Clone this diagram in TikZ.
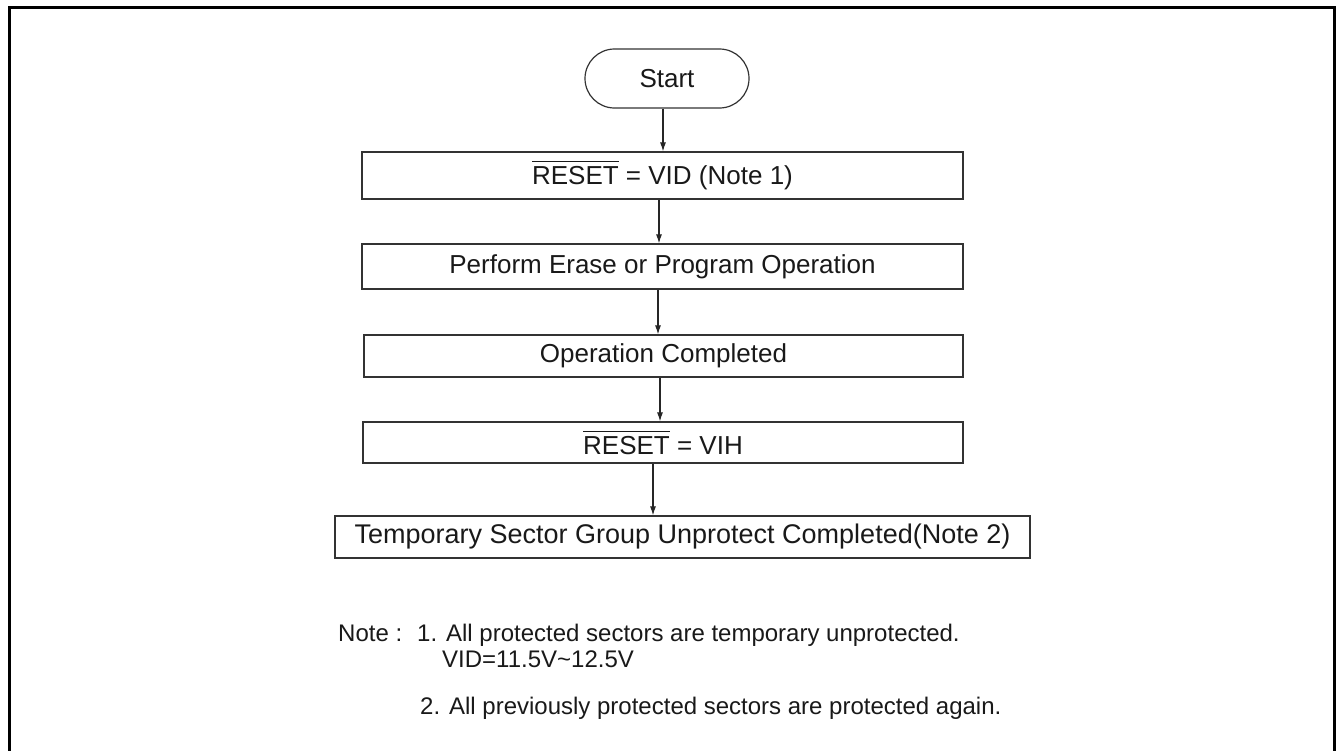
\documentclass[tikz,border=0pt]{standalone}
\usepackage{fontspec}
\setmainfont{Liberation Sans}
\usetikzlibrary{arrows.meta,calc}
\newcommand\rstbar[1]{\leavevmode\vbox{\hrule height 1.1pt\kern 4pt\hbox{#1}}}
\begin{document}
\begin{tikzpicture}[x=1pt,y=-1pt,
  box/.style={draw=black!80, line width=1.2pt, minimum width=601pt, inner sep=0pt,
    text=black!90, font=\fontsize{26}{30}\selectfont},
  arr/.style={draw=black!85, line width=1.1pt, -{Latex[length=9pt,width=6pt]}},
  note/.style={anchor=base west, inner sep=0pt, text=black!90, font=\fontsize{24}{28}\selectfont}]
\useasboundingbox (0,0) rectangle (1336,750);
\draw[line width=3pt] (9.5,760) -- (9.5,7.5) -- (1334.5,7.5) -- (1334.5,760);

\node[box, rounded corners=29.5pt, minimum width=164pt, minimum height=59pt] (start) at (667,78.5) {Start};
\node[box, minimum height=47pt] (r1) at (662.5,175.5) {\rstbar{RESET} = VID (Note 1)};
\node[box, minimum height=45pt] (perf) at (662.5,266.5) {Perform Erase or Program Operation};
\node[box, minimum width=599pt, minimum height=42pt] (opc) at (663.5,356) {Operation Completed};
\node[box, minimum width=600pt, minimum height=41pt] (r2) at (663,442.5) {\rstbar{RESET} = VIH};
\node[box, minimum width=695pt, minimum height=42pt, font=\fontsize{27}{31}\selectfont] (temp) at (682.5,537) {Temporary Sector Group Unprotect Completed(Note 2)};

\draw[arr] ([xshift=-4pt]start.south) -- ([xshift=-4pt]start.south |- r1.north);
\draw[arr] ([xshift=-3.5pt]r1.south) -- ([xshift=-3.5pt]r1.south |- perf.north);
\draw[arr] ([xshift=-4.5pt]perf.south) -- ([xshift=-4.5pt]perf.south |- opc.north);
\draw[arr] ([xshift=-3.5pt]opc.south) -- ([xshift=-3.5pt]opc.south |- r2.north);
\draw[arr] ([xshift=-10pt]r2.south) -- ([xshift=-10pt]r2.south |- temp.north);

\node[note] (n0) at (338,641) {Note :};
\node[note] (n1) at (417,641) {1. All protected sectors are temporary unprotected.};
\node[note] (n1b) at (442,667) {VID=11.5V\textasciitilde12.5V};
\node[note] (n2) at (420,714) {2. All previously protected sectors are protected again.};
\end{tikzpicture}
\end{document}
